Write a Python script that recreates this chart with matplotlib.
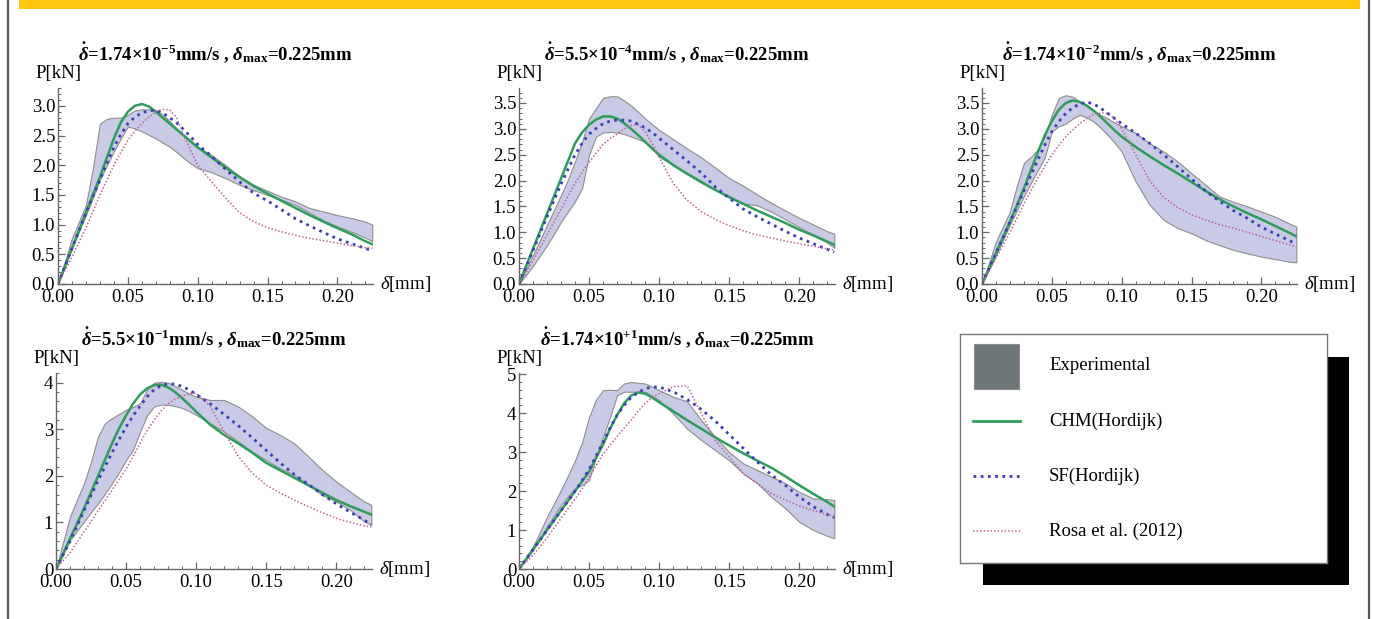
import numpy as np
import matplotlib
matplotlib.use("Agg")
import matplotlib.pyplot as plt
from matplotlib.patches import Rectangle
from matplotlib.lines import Line2D
from matplotlib.ticker import MultipleLocator, FormatStrFormatter

plt.rcParams['font.family'] = ['Liberation Serif', 'DejaVu Serif']
plt.rcParams['mathtext.fontset'] = 'custom'
plt.rcParams['mathtext.rm'] = 'Liberation Serif:bold'
plt.rcParams['mathtext.it'] = 'Liberation Serif:italic:bold'
plt.rcParams['mathtext.bf'] = 'Liberation Serif:bold'
plt.rcParams['mathtext.sf'] = 'Liberation Serif:italic'

# displacement grid [mm]
X = [0, .01, .02, .025, .03, .035, .04, .045, .05, .055, .06, .065, .07, .075, .08,
     .085, .09, .095, .10, .11, .12, .13, .14, .15, .16, .17, .18, .19, .20, .21, .22, .225]

# panel 1: 1.74e-5 mm/s
p1_up = [0, 0.77, 1.33, 1.95, 2.7, 2.78, 2.8, 2.8, 2.85, 2.92, 2.94, 2.94, 2.93, 2.85, 2.74, 2.62, 2.51, 2.41, 2.31,
         2.17, 2.0, 1.81, 1.67, 1.57, 1.47, 1.39, 1.28, 1.22, 1.16, 1.11, 1.05, 1.0]
p1_lo = [0, 0.6, 1.16, 1.45, 1.75, 2.0, 2.23, 2.45, 2.65, 2.62, 2.57, 2.51, 2.45, 2.38, 2.31, 2.22, 2.12, 2.03, 1.95,
         1.88, 1.78, 1.67, 1.58, 1.5, 1.42, 1.33, 1.2, 1.07, 0.97, 0.88, 0.78, 0.72]
p1_chm = [0, 0.6, 1.2, 1.5, 1.8, 2.13, 2.45, 2.72, 2.9, 3.0, 3.03, 2.99, 2.9, 2.8, 2.7, 2.6, 2.5, 2.4, 2.3,
          2.13, 1.96, 1.8, 1.65, 1.52, 1.4, 1.28, 1.16, 1.05, 0.94, 0.84, 0.72, 0.67]
p1_sf = [0, 0.6, 1.2, 1.48, 1.75, 2.03, 2.3, 2.52, 2.7, 2.81, 2.88, 2.92, 2.92, 2.88, 2.8, 2.71, 2.6, 2.48, 2.35,
         2.15, 1.93, 1.72, 1.53, 1.4, 1.25, 1.1, 0.98, 0.87, 0.76, 0.68, 0.6, 0.56]
p1_rosa = [0, 0.45, 0.95, 1.22, 1.5, 1.75, 2.0, 2.22, 2.42, 2.57, 2.7, 2.81, 2.9, 2.94, 2.93, 2.8, 2.5, 2.25, 2.0,
           1.72, 1.45, 1.2, 1.05, 0.95, 0.88, 0.82, 0.77, 0.73, 0.69, 0.65, 0.61, 0.6]

# panel 2: 5.5e-4 mm/s
p2_up = [0, 0.56, 1.14, 1.43, 1.72, 2.02, 2.37, 2.75, 3.2, 3.4, 3.6, 3.63, 3.63, 3.55, 3.45, 3.33, 3.2, 3.09, 2.98,
         2.8, 2.62, 2.45, 2.25, 2.05, 1.9, 1.73, 1.57, 1.42, 1.28, 1.15, 1.02, 0.97]
p2_lo = [0, 0.35, 0.75, 0.97, 1.2, 1.4, 1.6, 1.85, 2.5, 2.85, 2.93, 2.94, 2.93, 2.9, 2.85, 2.8, 2.75, 2.62, 2.46,
         2.3, 2.15, 2.0, 1.82, 1.68, 1.56, 1.52, 1.4, 1.25, 1.1, 0.95, 0.8, 0.7]
p2_chm = [0, 0.68, 1.36, 1.7, 2.04, 2.38, 2.72, 2.93, 3.08, 3.18, 3.24, 3.24, 3.2, 3.11, 3.0, 2.88, 2.75, 2.62, 2.5,
          2.3, 2.13, 1.97, 1.82, 1.68, 1.55, 1.42, 1.3, 1.18, 1.05, 0.94, 0.82, 0.76]
p2_sf = [0, 0.65, 1.3, 1.62, 1.93, 2.22, 2.5, 2.72, 2.9, 3.01, 3.1, 3.15, 3.17, 3.17, 3.15, 3.09, 3.02, 2.93, 2.82,
         2.6, 2.38, 2.15, 1.88, 1.66, 1.45, 1.3, 1.16, 1.02, 0.89, 0.78, 0.67, 0.62]
p2_rosa = [0, 0.45, 0.95, 1.2, 1.45, 1.7, 1.95, 2.16, 2.35, 2.53, 2.7, 2.81, 2.9, 3.0, 3.07, 3.08, 2.95, 2.72, 2.45,
           1.95, 1.62, 1.4, 1.25, 1.13, 1.03, 0.95, 0.89, 0.83, 0.78, 0.73, 0.68, 0.66]

# panel 3: 1.74e-2 mm/s
p3_up = [0, 0.82, 1.4, 1.9, 2.34, 2.46, 2.6, 2.85, 3.27, 3.6, 3.65, 3.62, 3.53, 3.43, 3.34, 3.27, 3.2, 3.12, 3.05,
         2.92, 2.72, 2.56, 2.37, 2.14, 1.92, 1.69, 1.59, 1.5, 1.4, 1.3, 1.17, 1.11]
p3_lo = [0, 0.55, 1.15, 1.42, 1.7, 1.95, 2.2, 2.45, 2.95, 3.05, 3.1, 3.2, 3.27, 3.22, 3.14, 3.02, 2.88, 2.73, 2.56,
         1.98, 1.53, 1.24, 1.08, 0.98, 0.85, 0.75, 0.66, 0.59, 0.53, 0.48, 0.43, 0.42]
p3_chm = [0, 0.6, 1.2, 1.52, 1.85, 2.2, 2.55, 2.88, 3.15, 3.37, 3.5, 3.55, 3.52, 3.45, 3.35, 3.23, 3.1, 2.97, 2.85,
          2.65, 2.47, 2.3, 2.14, 1.97, 1.8, 1.64, 1.5, 1.37, 1.25, 1.12, 0.99, 0.92]
p3_sf = [0, 0.6, 1.2, 1.5, 1.8, 2.1, 2.4, 2.69, 2.95, 3.14, 3.3, 3.41, 3.48, 3.52, 3.48, 3.4, 3.3, 3.2, 3.1,
         2.92, 2.72, 2.5, 2.27, 2.03, 1.8, 1.6, 1.42, 1.27, 1.1, 0.97, 0.84, 0.77]
p3_rosa = [0, 0.5, 1.0, 1.27, 1.55, 1.8, 2.05, 2.28, 2.5, 2.68, 2.85, 2.98, 3.1, 3.2, 3.28, 3.31, 3.3, 3.2, 3.0,
           2.5, 2.0, 1.68, 1.48, 1.34, 1.24, 1.15, 1.08, 1.0, 0.92, 0.84, 0.76, 0.72]

# panel 4: 5.5e-1 mm/s
p4_up = [0, 1.13, 1.84, 2.3, 2.85, 3.13, 3.24, 3.33, 3.42, 3.48, 3.56, 3.85, 4.0, 4.02, 4.0, 3.93, 3.85, 3.77, 3.7,
         3.63, 3.63, 3.49, 3.28, 3.03, 2.88, 2.7, 2.42, 2.13, 1.88, 1.66, 1.45, 1.38]
p4_lo = [0, 0.62, 1.02, 1.22, 1.41, 1.62, 1.84, 2.08, 2.34, 2.56, 2.95, 3.3, 3.49, 3.53, 3.53, 3.5, 3.46, 3.39, 3.31,
         3.13, 2.95, 2.74, 2.52, 2.34, 2.16, 2.02, 1.81, 1.59, 1.45, 1.27, 1.02, 0.95]
p4_chm = [0, 0.65, 1.3, 1.65, 2.0, 2.35, 2.7, 3.02, 3.3, 3.55, 3.75, 3.88, 3.95, 3.96, 3.9, 3.8, 3.67, 3.53, 3.38,
          3.1, 2.88, 2.7, 2.5, 2.28, 2.12, 1.96, 1.8, 1.64, 1.48, 1.35, 1.23, 1.17]
p4_sf = [0, 0.6, 1.25, 1.58, 1.9, 2.2, 2.5, 2.78, 3.05, 3.29, 3.5, 3.7, 3.85, 3.94, 3.98, 3.97, 3.92, 3.85, 3.75,
         3.55, 3.32, 3.08, 2.82, 2.55, 2.28, 2.03, 1.82, 1.6, 1.4, 1.22, 1.05, 0.95]
p4_rosa = [0, 0.35, 0.8, 1.02, 1.25, 1.47, 1.7, 1.92, 2.15, 2.42, 2.7, 2.97, 3.2, 3.4, 3.55, 3.65, 3.72, 3.76, 3.78,
           3.5, 2.95, 2.42, 2.06, 1.8, 1.63, 1.48, 1.34, 1.21, 1.09, 1.0, 0.93, 0.9]

# panel 5: 1.74e+1 mm/s
p5_up = [0, 0.57, 1.34, 1.68, 2.03, 2.4, 2.79, 3.25, 3.9, 4.35, 4.59, 4.6, 4.59, 4.76, 4.8, 4.78, 4.76, 4.68, 4.59,
         4.42, 4.3, 3.82, 3.39, 3.0, 2.71, 2.54, 2.37, 2.2, 1.98, 1.81, 1.79, 1.77]
p5_lo = [0, 0.49, 1.09, 1.37, 1.64, 1.87, 2.07, 2.15, 2.28, 2.88, 3.39, 3.9, 4.46, 4.55, 4.55, 4.55, 4.55, 4.45, 4.33,
         3.99, 3.6, 3.31, 3.05, 2.79, 2.45, 2.2, 1.85, 1.56, 1.21, 1.0, 0.85, 0.79]
p5_chm = [0, 0.5, 1.0, 1.25, 1.5, 1.75, 2.0, 2.25, 2.5, 2.85, 3.2, 3.6, 3.95, 4.25, 4.45, 4.53, 4.5, 4.4, 4.28,
          4.05, 3.82, 3.6, 3.38, 3.17, 2.97, 2.78, 2.6, 2.38, 2.15, 1.93, 1.72, 1.6]
p5_sf = [0, 0.5, 1.0, 1.25, 1.5, 1.75, 2.0, 2.27, 2.55, 2.9, 3.25, 3.62, 3.95, 4.2, 4.4, 4.53, 4.63, 4.67, 4.67,
         4.55, 4.35, 4.1, 3.8, 3.45, 3.1, 2.75, 2.42, 2.15, 1.85, 1.6, 1.4, 1.32]
p5_rosa = [0, 0.35, 0.8, 1.05, 1.3, 1.55, 1.8, 2.05, 2.35, 2.65, 2.95, 3.18, 3.4, 3.62, 3.82, 4.05, 4.25, 4.4, 4.5,
           4.68, 4.7, 4.0, 3.3, 2.88, 2.45, 2.2, 1.94, 1.77, 1.62, 1.5, 1.4, 1.35]

rates = ["1.74×10$^{-5}$", "5.5×10$^{-4}$", "1.74×10$^{-2}$", "5.5×10$^{-1}$", "1.74×10$^{+1}$"]
ymaxs = [3.3, 3.79, 3.79, 4.21, 5.03]
labels = ["Experimental", "CHM(Hordijk)", "SF(Hordijk)", "Rosa et al. (2012)"]

C_FILL = '#c9cbe6'
C_EDGE = '#8e8e8e'
C_CHM = '#2e9c5c'
C_SF = '#3c40b6'
C_ROSA = '#b8669a'

W, H = 1373, 619
fig = plt.figure(figsize=(W / 100, H / 100), dpi=100)

# page decorations: yellow band and side rules
fig.patches.append(Rectangle((19 / W, 1 - 9 / H), 1341 / W, 9 / H, transform=fig.transFigure,
                             facecolor='#fec80c', edgecolor='none'))
for xp in (8, 1369):
    fig.lines.append(Line2D([xp / W, xp / W], [0, 1], transform=fig.transFigure,
                            color='#555555', lw=1.6))

# axes boxes in pixels: (left, bottom_y_from_top, width, height)
boxes = [(58, 284, 315, 196), (519, 284, 316, 196), (982, 284, 315, 196),
         (56, 569, 316, 196), (519, 569, 316, 196)]
panels = [(p1_up, p1_lo, p1_chm, p1_sf, p1_rosa),
          (p2_up, p2_lo, p2_chm, p2_sf, p2_rosa),
          (p3_up, p3_lo, p3_chm, p3_sf, p3_rosa),
          (p4_up, p4_lo, p4_chm, p4_sf, p4_rosa),
          (p5_up, p5_lo, p5_chm, p5_sf, p5_rosa)]

for i, (box, data) in enumerate(zip(boxes, panels)):
    l, b, w, h = box
    ax = fig.add_axes([l / W, 1 - b / H, w / W, h / H])
    up, lo, chm, sf, rosa = data
    ax.fill_between(X, lo, up, facecolor=C_FILL, edgecolor=C_EDGE, lw=0.8)
    ax.plot(X, chm, color=C_CHM, lw=1.8, solid_joinstyle='round')
    ax.plot(X, sf, color=C_SF, lw=2.0, ls=(0, (1, 1.6)))
    ax.plot(X, rosa, color=C_ROSA, lw=1.1, ls=(0, (1, 1.3)))

    ax.set_xlim(0, 0.2255)
    ax.set_ylim(0, ymaxs[i])
    for s in ('top', 'right'):
        ax.spines[s].set_visible(False)
    for s in ('left', 'bottom'):
        ax.spines[s].set_color('#666666')
        ax.spines[s].set_linewidth(1.0)
    ax.xaxis.set_major_locator(MultipleLocator(0.05))
    ax.xaxis.set_minor_locator(MultipleLocator(0.01))
    ax.xaxis.set_major_formatter(FormatStrFormatter('%.2f'))
    if i < 3:
        ax.yaxis.set_major_locator(MultipleLocator(0.5))
        ax.yaxis.set_minor_locator(MultipleLocator(0.1))
        ax.yaxis.set_major_formatter(FormatStrFormatter('%.1f'))
    else:
        ax.yaxis.set_major_locator(MultipleLocator(1))
        ax.yaxis.set_minor_locator(MultipleLocator(0.2))
        ax.yaxis.set_major_formatter(FormatStrFormatter('%d'))
    ax.tick_params(which='both', direction='in', color='#666666', labelsize=13.5)
    ax.tick_params(axis='x', pad=3.5)
    ax.tick_params(axis='y', pad=2)
    ax.tick_params(which='major', length=5, width=0.9)
    ax.tick_params(which='minor', length=2.5, width=0.7)

    ax.text(0.0, 1 + 14 / h, "P[kN]", transform=ax.transAxes, ha='center', va='center', fontsize=13.5)
    ax.text(1 + 7 / w, 0.0, r"$\mathsf{\delta}$[mm]", transform=ax.transAxes,
            ha='left', va='center', fontsize=13.5)
    title = r"$\dot{\delta}$=" + rates[i] + r"mm/s , $\delta_{\mathrm{max}}$=0.225mm"
    ax.text(0.5, 1 + 35 / h, title, transform=ax.transAxes, ha='center', va='center',
            fontsize=13.5, fontweight='bold')

# legend box with hard shadow (shadow sits behind the box)
fig.patches.append(Rectangle((983 / W, 1 - 585 / H), 366 / W, 228 / H, transform=fig.transFigure,
                             facecolor='black', edgecolor='none', zorder=-1))
lax = fig.add_axes([960 / W, 1 - 563 / H, 367 / W, 229 / H], facecolor='white')
lax.set_xlim(0, 367)
lax.set_ylim(229, 0)
lax.set_xticks([])
lax.set_yticks([])
for s in lax.spines.values():
    s.set_color('#777777')
    s.set_linewidth(1.0)
lax.add_patch(Rectangle((14, 10), 45, 45, facecolor='#6f7678', edgecolor='#8a9092', lw=0.8))
lax.plot([13, 60], [87, 87], color=C_CHM, lw=2)
lax.plot([13, 60], [142, 142], color=C_SF, lw=2.0, ls=(0, (1, 1.6)))
lax.plot([13, 60], [197, 197], color=C_ROSA, lw=1.1, ls=(0, (1, 1.3)))
for lab, yy in zip(labels, [32, 87, 142, 197]):
    lax.text(89, yy, lab, ha='left', va='center', fontsize=13.5)

fig.savefig("out.png", dpi=100)
